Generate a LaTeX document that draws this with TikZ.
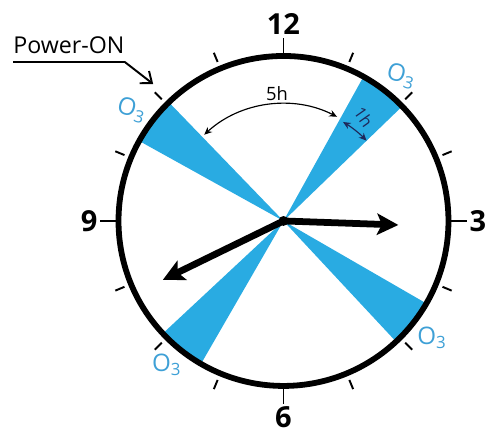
\documentclass[tikz,border=0pt]{standalone}
\usepackage{fontspec}
\setmainfont{Open Sans}
\usetikzlibrary{arrows.meta}

\definecolor{ozon}{RGB}{41,171,226}
\definecolor{ozontext}{RGB}{62,160,214}
\definecolor{navy}{RGB}{30,40,90}

\begin{document}
\begin{tikzpicture}[
        hand/.style={line width=3.5pt, -{Stealth[length=11pt,width=11pt,inset=2.5pt]}},
        tick/.style={line width=1pt},
        hour/.style={font=\fontsize{15}{18}\selectfont\bfseries, inner sep=1pt},
        ozlabel/.style={text=ozontext, font=\fontsize{12.5}{14}\selectfont, inner sep=0pt},
        span/.style={line width=0.6pt, {Stealth[length=4pt,width=3.5pt]}-{Stealth[length=4pt,width=3.5pt]}}
    ]
        % Рамка рисунка
        \useasboundingbox (-5.155,-3.927) rectangle (3.755,4.018);

        % Секторы озона (по 1h)
        \foreach \a in {44,134,223,313}
            \fill[ozon] (0,0) -- (\a:3) arc[start angle=\a, end angle=\a+17, radius=3] -- cycle;

        % Циферблат
        \draw[line width=3pt] (0,0) circle (3);

        % Мелкие деления
        \foreach \a in {22.5,45,67.5,112.5,135,157.5,202.5,225,247.5,292.5,315,337.5}
            \draw[tick] (\a:3.13) -- (\a:3.31);

        % Большие деления и цифры
        \draw[tick] (90:3) -- (90:3.33) node[hour, anchor=south] (h12) {12};
        \draw[tick] (0:3) -- (0:3.33) node[hour, anchor=west] (h3) {3};
        \draw[tick] (270:3) -- (270:3.33) node[hour, anchor=north] (h6) {6};
        \draw[tick] (180:3) -- (180:3.33) node[hour, anchor=east] (h9) {9};

        % Подписи O3
        \node[ozlabel, rotate=-15] (oz1) at (2.14, 2.64) {O\textsubscript{3}};
        \node[ozlabel, rotate=-15] (oz2) at (-2.76, 2.02) {O\textsubscript{3}};
        \node[ozlabel] (oz3) at (-2.12, -2.62) {O\textsubscript{3}};
        \node[ozlabel] (oz4) at (2.70, -2.12) {O\textsubscript{3}};

        % Интервал 5h
        \draw[span] (132.6:2.13) arc[start angle=132.6, end angle=62.8, radius=2.13];
        \node[anchor=south, inner sep=1pt, font=\fontsize{9.5}{11}\selectfont] (t5) at (-0.12, 2.14) {5h};

        % Интервал 1h
        \draw[span, navy] (59:2.1) arc[start angle=59, end angle=44, radius=2.1];
        \node[rotate=-55, inner sep=0pt, text=navy, font=\fontsize{8.5}{10}\selectfont] (t1) at (1.46, 1.89) {1h};

        % Power-ON
        \node[anchor=south west, inner xsep=0pt, inner ysep=4pt, font=\fontsize{12}{14}\selectfont] (pw) at (-4.918, 2.89) {Power-ON};
        \coordinate (pwtip) at (-2.37, 2.49);
        \draw[line width=1pt, -{Straight Barb[length=5pt,width=8pt]}] (pw.south west) -- (pw.south east) -- (pwtip);

        % Стрелки часов
        \coordinate (c) at (0,0);
        \coordinate (hr) at (-2:2.09);
        \coordinate (hl) at (206:2.44);
        \draw[hand] (c) -- (hr);
        \draw[hand] (c) -- (hl);
        \fill (c) circle (0.09);

    \end{tikzpicture}
\end{document}
